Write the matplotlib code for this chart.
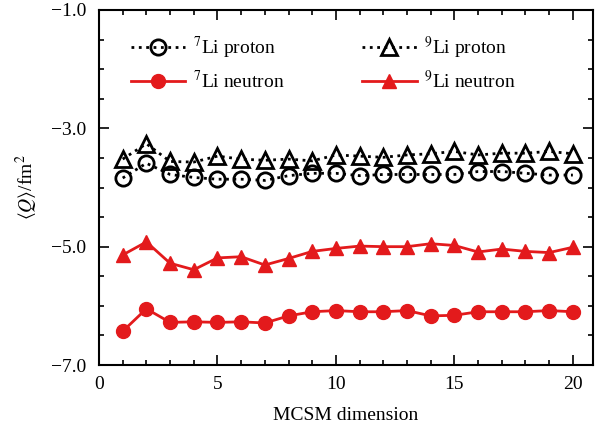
import numpy as np
import matplotlib
matplotlib.use('Agg')
import matplotlib.pyplot as plt
from matplotlib.ticker import FixedLocator, MultipleLocator, FuncFormatter

plt.rcParams['font.family'] = ['Liberation Serif', 'DejaVu Serif']
plt.rcParams['mathtext.fontset'] = 'stix'
plt.rcParams['font.size'] = 14

# MCSM dimension
dims = np.arange(1, 21)

# <Q> values in fm^2
li7_proton = [-3.84, -3.59, -3.78, -3.83, -3.86, -3.86, -3.88, -3.80, -3.76, -3.76,
              -3.80, -3.78, -3.78, -3.78, -3.78, -3.73, -3.73, -3.76, -3.79, -3.79]
li7_neutron = [-6.43, -6.05, -6.28, -6.27, -6.28, -6.27, -6.29, -6.17, -6.10, -6.08,
               -6.10, -6.10, -6.08, -6.17, -6.16, -6.10, -6.10, -6.10, -6.08, -6.10]
li9_proton = [-3.52, -3.26, -3.56, -3.57, -3.47, -3.52, -3.54, -3.52, -3.55, -3.45,
              -3.47, -3.49, -3.45, -3.43, -3.39, -3.45, -3.42, -3.42, -3.39, -3.43]
li9_neutron = [-5.14, -4.92, -5.28, -5.39, -5.19, -5.17, -5.31, -5.20, -5.08, -5.03,
               -4.99, -5.00, -5.00, -4.95, -4.98, -5.09, -5.04, -5.08, -5.10, -5.01]

red = '#e31a1c'

fig = plt.figure(figsize=(5.95, 4.37), dpi=100)
ax = fig.add_axes([99 / 595, 72 / 437, 494 / 595, 355 / 437])

ax.plot(dims, li7_proton, ls=':', lw=2, color='black', marker='o', ms=11,
        mfc='none', mec='black', mew=2, label=r'$^7$Li proton')
ax.plot(dims, li7_neutron, ls='-', lw=2, color=red, marker='o', ms=10,
        mfc=red, mec=red, label=r'$^7$Li neutron')
ax.plot(dims, li9_proton, ls=':', lw=2, color='black', marker='^', ms=11,
        mfc='none', mec='black', mew=2, label=r'$^9$Li proton')
ax.plot(dims, li9_neutron, ls='-', lw=2, color=red, marker='^', ms=10,
        mfc=red, mec=red, label=r'$^9$Li neutron')

ax.set_xlim(0, 20.85)
ax.set_ylim(-7, -1)
ax.xaxis.set_major_locator(FixedLocator([0, 5, 10, 15, 20]))
ax.xaxis.set_minor_locator(MultipleLocator(1))
ax.yaxis.set_major_locator(FixedLocator([-7, -5, -3, -1]))
ax.yaxis.set_minor_locator(MultipleLocator(0.5))
ax.yaxis.set_major_formatter(FuncFormatter(lambda v, p: f'{v:.1f}'.replace('-', '\u2212')))

ax.tick_params(which='both', direction='in', top=True, right=True, width=1.2)
ax.tick_params(which='major', length=7)
ax.tick_params(which='minor', length=3.5)
ax.tick_params(axis='x', pad=8)
ax.tick_params(axis='y', pad=9)
for s in ax.spines.values():
    s.set_linewidth(1.5)

ax.set_xlabel('MCSM dimension', labelpad=10)
ax.set_ylabel(r'$\langle Q\rangle$/fm$^2$', labelpad=8)

ax.legend(ncol=2, loc='upper left', bbox_to_anchor=(0.064, 0.93), frameon=False,
          borderaxespad=0, borderpad=0, handlelength=2.8, handletextpad=0.4,
          labelspacing=0.45, columnspacing=4.0, numpoints=1)

fig.savefig('out.png', dpi=100)
